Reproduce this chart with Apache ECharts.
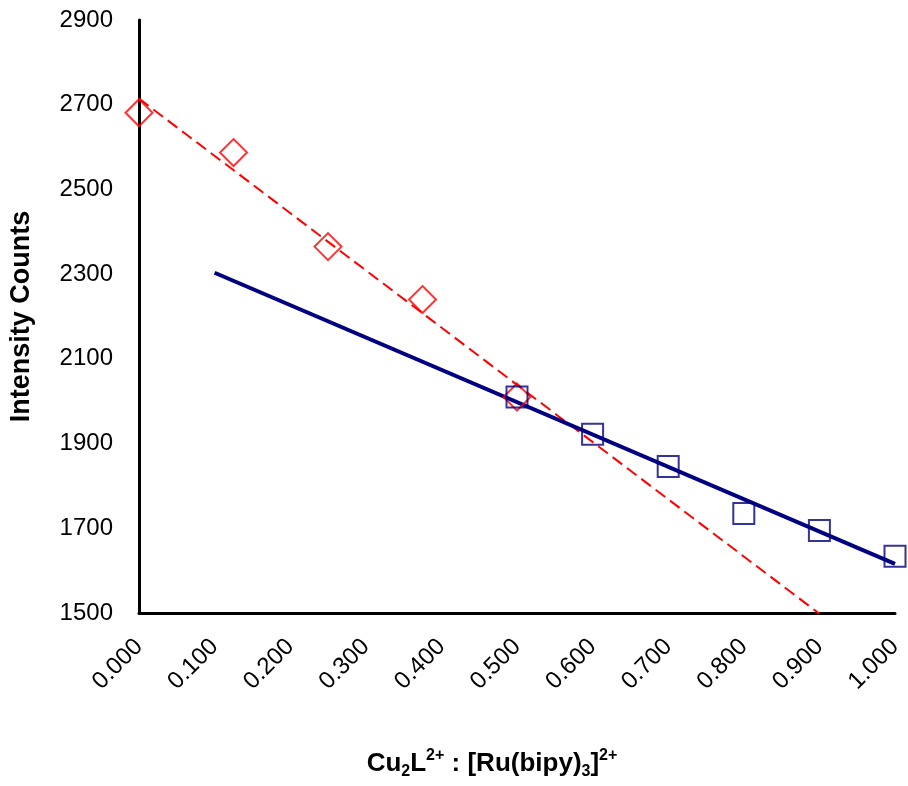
<!DOCTYPE html>
<html>
<head>
<meta charset="utf-8">
<script src="https://cdn.jsdelivr.net/npm/echarts@6/dist/echarts.min.js"></script>
<style>
  html, body { margin: 0; padding: 0; background: #fff; }
  #chart { width: 908px; height: 786px; }
</style>
</head>
<body>
<div id="chart"></div>
<script>
// Quenching data: Cu2L2+ : [Ru(bipy)3]2+ ratio vs. emission intensity
const redX = [0.000, 0.125, 0.250, 0.375, 0.500];
const redY = [2681, 2587, 2365, 2240, 2010];
const blueX = [0.500, 0.600, 0.700, 0.800, 0.900, 1.000];
const blueY = [2010, 1922, 1846, 1735, 1695, 1634];

// x-range covered by each linear trendline (with forecast)
const redTrendRange = [0.0, 0.9];
const blueTrendRange = [0.1, 1.0];

const yTicks = { min: 1500, max: 2900, interval: 200 };
const xTicks = { min: 0, max: 1, interval: 0.1 };

// least-squares fit through a set of points
function linearFit(xs, ys) {
  const n = xs.length;
  const mx = xs.reduce((a, b) => a + b, 0) / n;
  const my = ys.reduce((a, b) => a + b, 0) / n;
  let sxy = 0, sxx = 0;
  for (let i = 0; i < n; i++) {
    sxy += (xs[i] - mx) * (ys[i] - my);
    sxx += (xs[i] - mx) * (xs[i] - mx);
  }
  const slope = sxy / sxx;
  return x => my + slope * (x - mx);
}
function trendPoints(xs, ys, range) {
  const f = linearFit(xs, ys);
  return range.map(x => [x, f(x)]);
}
const zip = (xs, ys) => xs.map((x, i) => [x, ys[i]]);

const RED = '#ff0000';
const NAVY = '#000080';
const FONT = '"Liberation Sans", Arial, sans-serif';

const chart = echarts.init(document.getElementById('chart'), null, { renderer: 'canvas' });

chart.setOption({
  animation: false,
  backgroundColor: '#ffffff',
  grid: { left: 139, right: 13, top: 20, bottom: 173, containLabel: false },
  xAxis: {
    type: 'value',
    min: xTicks.min, max: xTicks.max, interval: xTicks.interval,
    axisLine: { show: true, onZero: false, lineStyle: { color: '#000', width: 3 } },
    axisTick: { show: false },
    splitLine: { show: false },
    axisLabel: {
      rotate: 45, margin: 30,
      fontFamily: FONT, fontSize: 24, color: '#000',
      formatter: v => v.toFixed(3)
    }
  },
  yAxis: {
    type: 'value',
    min: yTicks.min, max: yTicks.max, interval: yTicks.interval,
    name: 'Intensity Counts',
    nameLocation: 'middle', nameGap: 104, nameRotate: 90,
    nameTextStyle: { fontFamily: FONT, fontSize: 27, fontWeight: 'bold', color: '#000' },
    axisLine: { show: true, lineStyle: { color: '#000', width: 3 } },
    axisTick: { show: false },
    splitLine: { show: false },
    axisLabel: { margin: 26, fontFamily: FONT, fontSize: 24, color: '#000', formatter: v => String(v) }
  },
  graphic: [{
    type: 'text',
    x: 492, y: 764,
    style: {
      text: '{n|Cu}{sub|2}{n|L}{sup|2+}{n| : [Ru(bipy)}{sub|3}{n|]}{sup|2+}',
      align: 'center', verticalAlign: 'middle',
      fill: '#000',
      rich: {
        n: { fontFamily: FONT, fontSize: 26, fontWeight: 'bold', lineHeight: 32, fill: '#000' },
        sup: { fontFamily: FONT, fontSize: 16, fontWeight: 'bold', lineHeight: 16, verticalAlign: 'top', fill: '#000' },
        sub: { fontFamily: FONT, fontSize: 16, fontWeight: 'bold', lineHeight: 16, verticalAlign: 'bottom', fill: '#000' }
      }
    }
  }],
  series: [
    {
      name: 'red trend', type: 'line', data: trendPoints(redX, redY, redTrendRange),
      showSymbol: false, symbol: 'none', clip: true, z: 2,
      lineStyle: { color: RED, width: 2, type: [12, 6] }
    },
    {
      name: 'blue trend', type: 'line', data: trendPoints(blueX, blueY, blueTrendRange),
      showSymbol: false, symbol: 'none', clip: true, z: 3,
      lineStyle: { color: NAVY, width: 4 }
    },
    {
      name: 'red points', type: 'scatter', data: zip(redX, redY),
      symbol: 'diamond', symbolSize: 27, z: 4,
      itemStyle: { color: 'rgba(0,0,0,0)', borderColor: RED, borderWidth: 2 }
    },
    {
      name: 'blue points', type: 'scatter', data: zip(blueX, blueY),
      symbol: 'rect', symbolSize: 21, z: 4,
      itemStyle: { color: 'rgba(0,0,0,0)', borderColor: NAVY, borderWidth: 2 }
    }
  ]
});
</script>
</body>
</html>
